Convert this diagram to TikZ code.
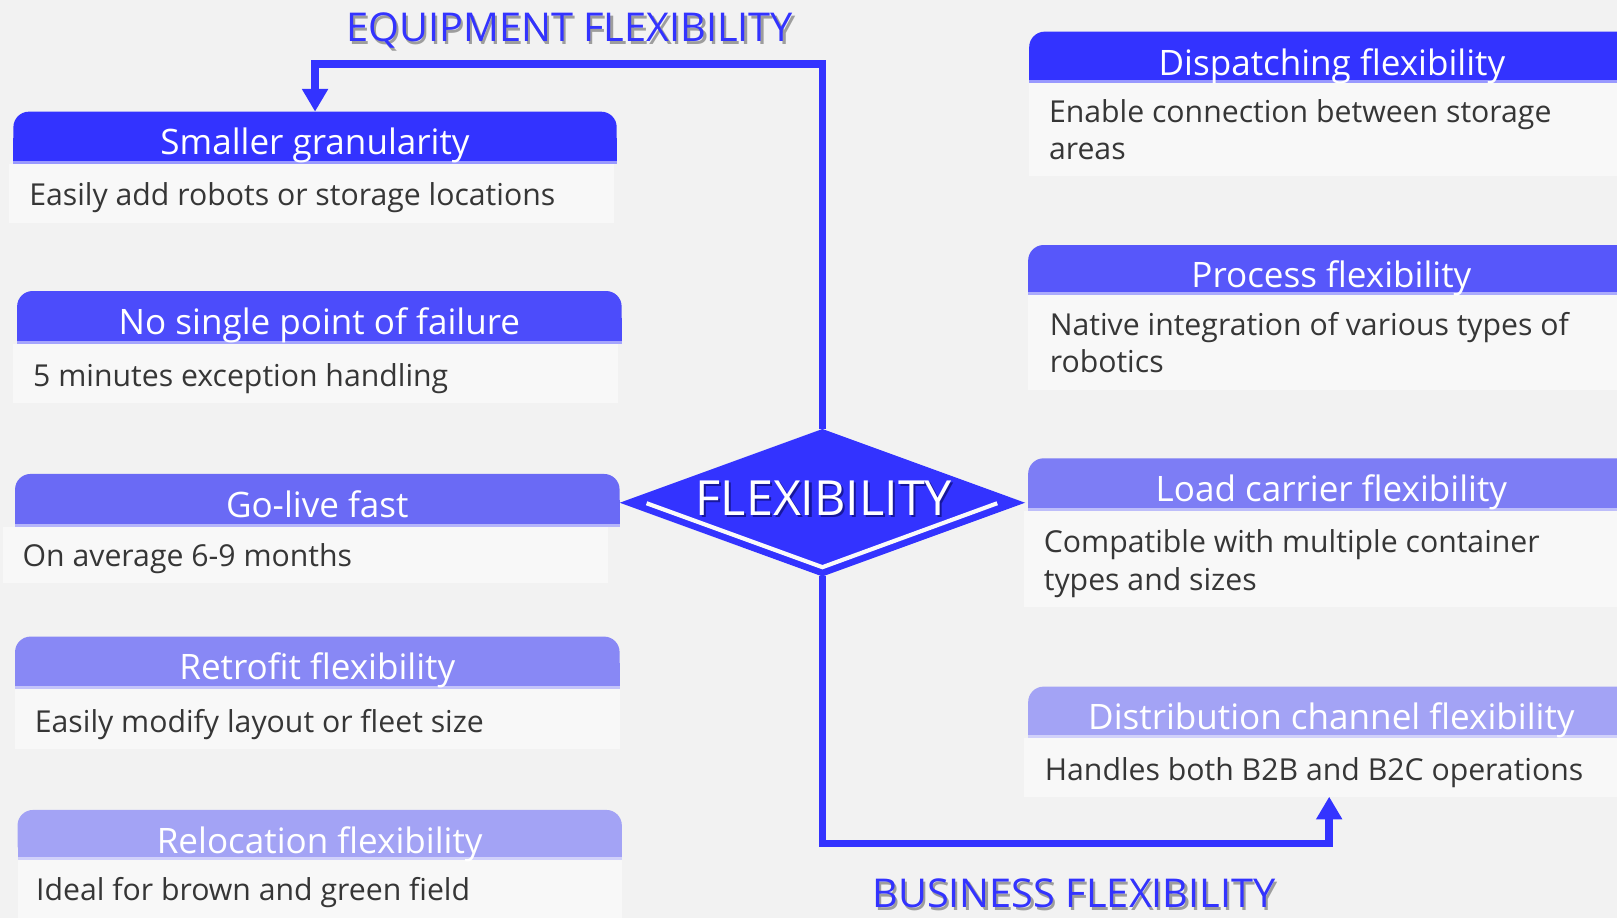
\documentclass[tikz,border=0pt]{standalone}
\usepackage{fontspec}
\setmainfont{Open Sans}
\usetikzlibrary{shapes.geometric,arrows.meta,calc,fit}
\definecolor{bg}{HTML}{F2F2F2}
\definecolor{bodyfill}{HTML}{F8F8F8}
\definecolor{txtgray}{HTML}{363636}
\definecolor{fblue}{HTML}{3333FF}
\definecolor{cA}{HTML}{3333FF}
\definecolor{cB}{HTML}{4C4CFB}
\definecolor{cC}{HTML}{5757FA}
\definecolor{cD}{HTML}{6A6AF5}
\definecolor{cE}{HTML}{7D7DF5}
\definecolor{cF}{HTML}{8888F5}
\definecolor{cG}{HTML}{A3A3F5}
\tikzset{
  hdrshape/.style={rounded corners=15pt, inner sep=0pt, outer sep=0pt, draw=none},
  bodybox/.style={fill=bodyfill, inner sep=0pt, outer sep=0pt, draw=none},
  cardtitle/.style={text=white, font=\fontsize{34}{40}\selectfont, inner sep=0pt, anchor=base},
  cardtext/.style={text=txtgray, font=\fontsize{29.3}{36}\selectfont, inner sep=0pt, anchor=base west},
  conn/.style={draw=fblue, line width=7.5pt},
  tip/.style={-{Triangle[width=24pt,length=22pt]}},
  biglabel/.style={font=\fontsize{38.5}{46}\selectfont, inner sep=0pt, anchor=base},
  lblshadow/.style={text=black, opacity=0.35},
}
\newcommand{\cardhead}[6]{%
  \node[hdrshape, fill=#6, fit={(#2,#3) (#4,#5)}] (#1) {};
  \fill[#6] (#1.west) rectangle (#1.south east);
  \fill[#6!50!white] (#1.south west) rectangle ([yshift=3pt]#1.south east);
}
\begin{document}
\begin{tikzpicture}[x=1pt,y=-1pt]
\useasboundingbox (0,0) rectangle (1568,890);
\clip (0,0) rectangle (1568,890);
\fill[bg] (0,0) rectangle (1568,890);

% ---------- left cards ----------
\cardhead{L1h}{13}{108.3}{598}{159.3}{cA}
\node[bodybox, fit={(9.2,159.3) (595.5,216)}] (L1b) {};
\node[cardtitle] (L1t) at ([yshift=-42pt]L1h.north) {Smaller granularity};
\node[cardtext] (L1x) at (28.2,199.5) {Easily add robots or storage locations};

\cardhead{L2h}{16.6}{282.2}{602.8}{333.6}{cB}
\node[bodybox, fit={(12.6,333.6) (599.4,390.5)}] (L2b) {};
\node[cardtitle] (L2t) at ([yshift=-42pt]L2h.north) {No single point of failure};
\node[cardtext] (L2x) at (32,374.8) {5 minutes exception handling};

\cardhead{L3h}{14.6}{459.6}{600.8}{510.7}{cD}
\node[bodybox, fit={(3.2,510.7) (589.6,565)}] (L3b) {};
\node[cardtitle] (L3t) at ([yshift=-42pt]L3h.north) {Go-live fast};
\node[cardtext] (L3x) at (21.8,549.3) {On average 6-9 months};

\cardhead{L4h}{14.6}{617.3}{600.8}{668.4}{cF}
\node[bodybox, fit={(14.6,668.4) (600.8,726.6)}] (L4b) {};
\node[cardtitle] (L4t) at ([yshift=-42pt]L4h.north) {Retrofit flexibility};
\node[cardtext] (L4x) at (33.6,710) {Easily modify layout or fleet size};

\cardhead{L5h}{17}{785.4}{603}{834}{cG}
\node[bodybox, fit={(17,834) (603,900)}] (L5b) {};
\node[cardtitle] (L5t) at ([yshift=-42pt]L5h.north) {Relocation flexibility};
\node[cardtext] (L5x) at (34.9,873.2) {Ideal for brown and green field};

% ---------- right cards ----------
\cardhead{R1h}{998}{30.7}{1585}{80.5}{cA}
\node[bodybox, fit={(998,80.5) (1585,171)}] (R1b) {};
\node[cardtitle] (R1t) at ([yshift=-43pt]R1h.north) {Dispatching flexibility};
\node[cardtext] (R1x) at (1017,118.5) {Enable connection between storage};
\node[cardtext] (R1y) at (1017,154.5) {areas};

\cardhead{R2h}{997}{237.6}{1585}{286}{cC}
\node[bodybox, fit={(997,286) (1585,378)}] (R2b) {};
\node[cardtitle] (R2t) at ([yshift=-41pt]R2h.north) {Process flexibility};
\node[cardtext] (R2x) at (1017.8,325.3) {Native integration of various types of};
\node[cardtext] (R2y) at (1017.8,361.4) {robotics};

\cardhead{R3h}{997}{444.4}{1585}{495.5}{cE}
\node[bodybox, fit={(992.8,495.5) (1585,588.3)}] (R3b) {};
\node[cardtitle] (R3t) at ([yshift=-42pt]R3h.north) {Load carrier flexibility};
\node[cardtext] (R3x) at (1012,535.5) {Compatible with multiple container};
\node[cardtext] (R3y) at (1012,572.4) {types and sizes};

\cardhead{R4h}{997}{665.8}{1585}{716}{cG}
\node[bodybox, fit={(992.8,716) (1585,772.5)}] (R4b) {};
\node[cardtitle] (R4t) at ([yshift=-42pt]R4h.north) {Distribution channel flexibility};
\node[cardtext] (R4x) at (1013,756.8) {Handles both B2B and B2C operations};

% ---------- central diamond ----------
\node[diamond, fill=fblue, minimum width=393pt, minimum height=143pt, inner sep=0pt, outer sep=0pt, aspect=2.75] (dia) at (797.5,487.5) {};
\draw[draw=white!96!gray, line width=4pt] ($(dia.west)+(26,0.5)$) -- ($(dia.south)+(0,-9)$) -- ($(dia.east)+(-27,0.5)$);
\node[font=\fontsize{47}{56}\selectfont, text=black!70!blue, opacity=0.55, inner sep=0pt, anchor=base] (diash) at (801,501.4) {FLEXIBILITY};
\node[font=\fontsize{47}{56}\selectfont, text=white, inner sep=0pt, anchor=base] (diat) at (799,499.4) {FLEXIBILITY};

% ---------- connectors ----------
\coordinate (topy) at (0,62);
\coordinate (boty) at (0,818);
\draw[conn, tip] (dia.north) -- (dia.north |- topy) -| (L1h.north);
\draw[conn, tip] (dia.south) -- (dia.south |- boty) -| (R4b.south);

% ---------- group labels ----------
\node[biglabel, lblshadow] (eqsh) at (555,43.4) {EQUIPMENT FLEXIBILITY};
\node[biglabel, text=fblue] (eq) at (552.5,40.4) {EQUIPMENT FLEXIBILITY};
\node[biglabel, lblshadow] (bush) at (1043.5,882.5) {BUSINESS FLEXIBILITY};
\node[biglabel, text=fblue] (bus) at (1041.5,880) {BUSINESS FLEXIBILITY};
\end{tikzpicture}
\end{document}
